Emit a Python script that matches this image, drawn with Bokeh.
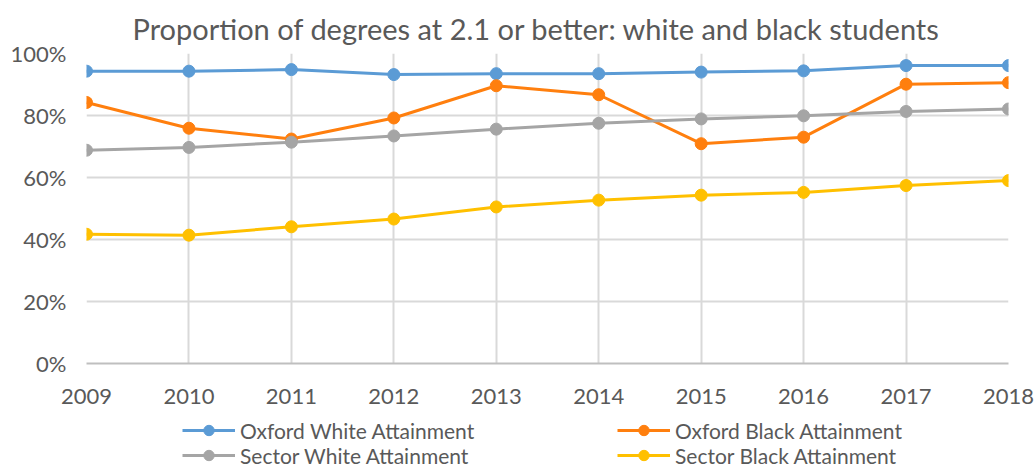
from bokeh.plotting import figure
from bokeh.models import Legend, LegendItem, FixedTicker, Range1d, Title
from bokeh.layouts import column
from bokeh.embed import file_html
from bokeh.resources import INLINE

years = [2009, 2010, 2011, 2012, 2013, 2014, 2015, 2016, 2017, 2018]
oxford_white = [94.3, 94.3, 94.8, 93.2, 93.5, 93.5, 94.0, 94.4, 96.1, 96.1]
oxford_black = [84.2, 75.9, 72.4, 79.2, 89.6, 86.7, 70.9, 73.0, 90.1, 90.6]
sector_white = [68.8, 69.7, 71.4, 73.4, 75.6, 77.5, 78.9, 79.9, 81.3, 82.1]
sector_black = [41.7, 41.4, 44.1, 46.6, 50.5, 52.7, 54.3, 55.2, 57.4, 59.0]
y_ticks = [0, 20, 40, 60, 80, 100]

series = [
    ("Oxford White Attainment", oxford_white, "#5B9BD5"),
    ("Oxford Black Attainment", oxford_black, "#FF7F0E"),
    ("Sector White Attainment", sector_white, "#A5A5A5"),
    ("Sector Black Attainment", sector_black, "#FFC000"),
]

FONT = "Lato"
TXT = "#595959"

p = figure(width=1034, height=412, output_backend="svg", toolbar_location=None,
           x_range=Range1d(2009, 2018), y_range=Range1d(0, 100))
p.min_border_left = 86
p.min_border_right = 26
p.min_border_top = 53
p.min_border_bottom = 49
p.outline_line_color = None

p.title = Title(text="Proportion of degrees at 2.1 or better: white and black students",
                align="left", offset=46, text_font=FONT, text_font_size="29px",
                text_color=TXT, text_font_style="normal", standoff=16)

# axes
p.xaxis.ticker = FixedTicker(ticks=years)
p.yaxis.ticker = FixedTicker(ticks=y_ticks)
p.yaxis.major_label_overrides = {t: f"{t}%" for t in y_ticks}
for ax in (p.xaxis[0], p.yaxis[0]):
    ax.major_label_text_font = FONT
    ax.major_label_text_font_size = "22px"
    ax.major_label_text_color = TXT
    ax.major_tick_line_color = None
    ax.minor_tick_line_color = None
p.xaxis.axis_line_color = "#BFBFBF"
p.xaxis.axis_line_width = 2
p.yaxis.axis_line_color = None
p.xaxis.major_label_standoff = 19
p.yaxis.major_label_standoff = 14

p.xgrid.ticker = FixedTicker(ticks=years)
p.ygrid.ticker = FixedTicker(ticks=y_ticks)
for g in (p.xgrid[0], p.ygrid[0]):
    g.grid_line_color = "#D9D9D9"
    g.grid_line_width = 2

for name, vals, col in series:
    p.line(years, vals, line_color=col, line_width=3)
    p.scatter(years, vals, size=12, fill_color=col, line_color=col)

# legend strip below the chart; its series lie outside the strip's view,
# so only the legend keys show
lf = figure(width=1034, height=56, output_backend="svg", toolbar_location=None,
            x_range=Range1d(0, 1), y_range=Range1d(0, 1),
            x_axis_location=None, y_axis_location=None)
lf.min_border_left = 0
lf.min_border_right = 0
lf.min_border_top = 0
lf.min_border_bottom = 0
lf.grid.visible = False
lf.outline_line_color = None

items = []
for name, vals, col in series:
    l = lf.line(years, vals, line_color=col, line_width=3)
    c = lf.scatter(years, vals, size=11, fill_color=col, line_color=col)
    items.append(LegendItem(label=name, renderers=[l, c]))

def make_legend(its, vy):
    return Legend(items=its, location=(96, vy), orientation="horizontal",
                  label_text_font=FONT, label_text_font_size="21px",
                  label_text_color=TXT, glyph_width=53, glyph_height=26,
                  label_height=20, label_width=240, label_standoff=5,
                  spacing=137, padding=0, margin=0,
                  border_line_color=None, background_fill_alpha=0)

lf.add_layout(make_legend([items[0], items[1]], 25))
lf.add_layout(make_legend([items[2], items[3]], 0))

open("out.html", "w").write(file_html(column(p, lf), INLINE))
